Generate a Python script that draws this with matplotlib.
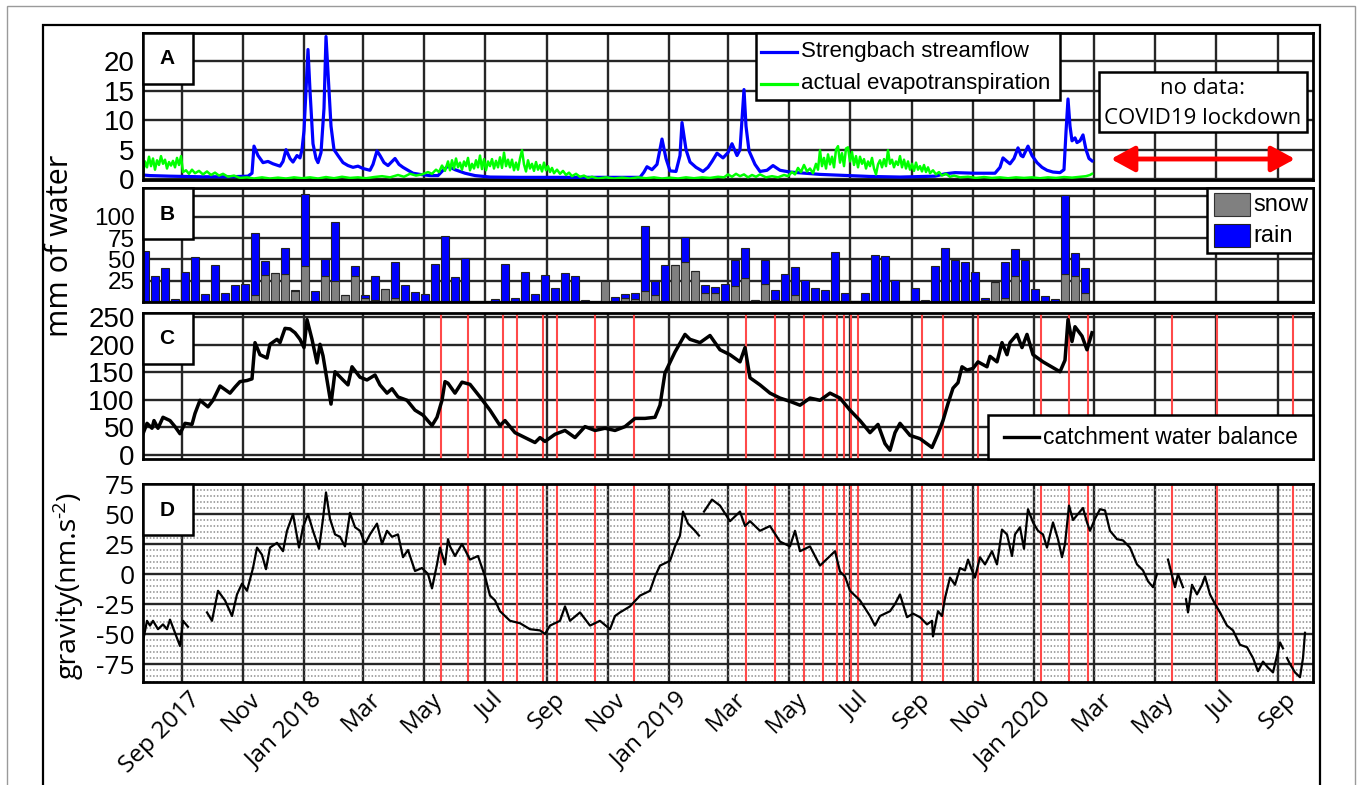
import numpy as np
import matplotlib
matplotlib.use('Agg')
import matplotlib.pyplot as plt
import matplotlib.dates as mdates
from matplotlib.patches import Rectangle, FancyArrowPatch
from matplotlib.lines import Line2D
from matplotlib.transforms import ScaledTranslation

# ---------------- data ----------------
ref_day = '2017-09-01'          # offsets below are days from this date
x_start, x_end = '2017-07-24', '2020-10-06'

month_ticks = ['2017-09-01', '2017-11-01', '2018-01-01', '2018-03-01', '2018-05-01',
               '2018-07-01', '2018-09-01', '2018-11-01', '2019-01-01', '2019-03-01',
               '2019-05-01', '2019-07-01', '2019-09-01', '2019-11-01', '2020-01-01',
               '2020-03-01', '2020-05-01', '2020-07-01', '2020-09-01']
month_labels = ['Sep 2017', 'Nov', 'Jan 2018', 'Mar', 'May', 'Jul', 'Sep', 'Nov',
                'Jan 2019', 'Mar', 'May', 'Jul', 'Sep', 'Nov', 'Jan 2020', 'Mar',
                'May', 'Jul', 'Sep']

# Panel A: Strengbach streamflow (mm/day)
flow_day = [-39, -32, -12, 18, 48, 66, 70, 72, 76, 81, 86, 91, 98, 101, 104, 108, 111,
            115, 118, 120, 122, 124, 126, 128, 131, 134, 136, 139, 142, 144, 146, 149,
            152, 156, 161, 166, 171, 176, 181, 188, 191, 195, 198, 202, 206, 210, 213,
            217, 221, 226, 231, 238, 248, 256, 261, 266, 273, 283, 293, 308, 338, 378,
            418, 458, 462, 465, 470, 475, 480, 484, 488, 494, 498, 500, 504, 508, 514,
            521, 526, 530, 535, 541, 546, 550, 555, 558, 560, 562, 564, 567, 573, 578,
            585, 591, 598, 608, 623, 638, 653, 668, 688, 718, 753, 763, 773, 793, 813,
            818, 821, 825, 828, 832, 836, 839, 841, 846, 850, 855, 860, 865, 871, 878,
            882, 884, 886, 888, 890, 893, 895, 898, 901, 904, 907, 910]
flow_mm = [0.7, 0.6, 0.5, 0.4, 0.4, 0.5, 1.0, 5.6, 4.0, 2.8, 3.0, 2.6, 2.2, 3.0, 5.0,
           3.5, 2.9, 4.0, 3.6, 5.0, 8.2, 15.0, 22.0, 15.0, 6.0, 3.5, 2.8, 4.5, 12.0,
           24.2, 18.0, 9.0, 5.0, 4.0, 2.8, 2.3, 2.0, 2.2, 1.8, 1.5, 2.5, 4.8, 4.0, 2.8,
           2.3, 3.0, 3.5, 2.5, 2.0, 1.5, 1.0, 0.8, 0.6, 0.6, 1.5, 2.2, 1.6, 1.0, 0.6,
           0.35, 0.3, 0.3, 0.3, 0.3, 1.2, 2.1, 1.6, 2.5, 6.8, 3.5, 1.4, 1.3, 4.0, 9.6,
           5.0, 2.9, 2.0, 1.3, 2.0, 3.0, 4.4, 3.6, 4.5, 6.0, 4.0, 5.0, 10.0, 15.2, 9.0,
           4.8, 2.5, 1.3, 1.5, 2.3, 1.5, 1.2, 1.0, 0.8, 0.7, 0.6, 0.45, 0.35, 0.5, 0.9,
           1.1, 1.0, 1.0, 2.0, 3.6, 3.0, 2.6, 3.5, 5.3, 4.0, 3.8, 5.6, 4.0, 2.8, 2.0,
           1.5, 1.2, 1.1, 1.6, 8.0, 13.6, 9.0, 6.5, 7.0, 6.2, 6.5, 7.5, 5.0, 3.5, 3.1]

# Panel A: actual evapotranspiration (mm/day)
et_day = [-39, -37, -35, -33, -31, -29, -27, -25, -23, -21, -19, -17, -15, -13, -11, -9,
          -7, -5, -3, -1, 1, 4, 7, 10, 13, 17, 21, 25, 29, 33, 37, 41, 46, 52, 58, 65,
          72, 80, 88, 96, 104, 112, 120, 128, 136, 144, 152, 160, 168, 176, 184, 192,
          200, 208, 216, 222, 228, 234, 240, 246, 250, 254, 257, 260, 263, 266,
          268, 270, 272, 274, 276, 278, 280, 282, 284, 286, 288, 290, 292, 294, 296,
          298, 300, 302, 304, 306, 308, 310, 312, 314, 316, 318, 320, 322, 324, 326,
          328, 330, 332, 334, 336, 338, 340, 342, 344, 346, 348, 350, 352, 354, 356,
          358, 360, 362, 364, 366, 368, 370, 372, 375, 378, 381, 384, 387, 390, 394,
          398, 402, 406, 410, 416, 424, 432, 440, 448, 456, 464, 472, 480, 488, 496,
          504, 512, 520, 528, 536, 542, 546, 550, 554, 558, 562, 566, 570, 574, 578,
          584, 590, 596, 602, 606, 610, 613, 616, 619, 622, 625, 628, 631, 634, 636,
          638, 640, 642, 644, 646, 648, 650, 652, 654, 656, 658, 660, 662, 664, 666,
          668, 670, 672, 674, 676, 678, 680, 682, 684, 686, 688, 690, 692, 694, 696,
          698, 700, 702, 704, 706, 708, 710, 712, 714, 716, 718, 720, 722, 724, 726,
          728, 730, 732, 734, 736, 738, 740, 742, 744, 746, 748, 751, 754, 757, 760,
          764, 768, 772, 778, 786, 794, 802, 810, 818, 826, 834, 842, 850, 858, 866,
          874, 882, 890, 898, 904, 908, 910]
et_mm = [1.0, 3.0, 2.0, 3.8, 2.2, 3.5, 1.6, 3.2, 2.4, 3.9, 2.6, 3.3, 1.8, 2.9, 2.3, 3.1,
         2.0, 3.6, 2.4, 3.9, 1.2, 1.5, 0.9, 1.6, 1.0, 1.4, 0.8, 1.3, 0.7, 1.1, 0.6, 0.9,
         0.4, 0.6, 0.2, 0.3, 0.1, 0.3, 0.1, 0.25, 0.1, 0.3, 0.15, 0.3, 0.1, 0.35, 0.15,
         0.4, 0.2, 0.3, 0.15, 0.35, 0.5, 0.3, 0.7, 0.4, 0.9, 0.6, 0.8, 1.2, 0.9, 1.6,
         1.2, 2.3, 1.4, 3.0,
         1.5, 3.2, 1.8, 3.5, 2.0, 2.8, 1.6, 3.0, 2.2, 3.6, 1.5, 2.6, 1.8, 3.2, 2.0,
         4.0, 1.7, 3.4, 1.5, 3.0, 2.2, 3.4, 1.8, 3.1, 2.0, 3.7, 1.9, 4.5, 2.2, 3.3,
         2.0, 3.3, 1.5, 2.8, 1.6, 3.5, 4.9, 2.5, 1.3, 3.2, 1.8, 2.6, 1.4, 2.9, 1.6,
         2.4, 1.3, 2.8, 1.5, 2.2, 1.2, 1.9, 1.0, 1.6, 0.9, 1.4, 0.7, 1.1, 0.5, 0.9,
         0.4, 0.6, 0.2, 0.4, 0.1, 0.3, 0.1, 0.25, 0.1, 0.3, 0.15, 0.3, 0.1, 0.25, 0.1,
         0.3, 0.15, 0.3, 0.2, 0.4, 0.3, 0.8, 0.4, 0.9, 0.5, 0.8, 0.3, 0.7, 0.4, 0.8,
         0.3, 0.5, 0.3, 0.7, 0.5, 1.2, 0.8, 1.9, 1.2, 2.4, 1.3, 1.8, 1.0, 2.6, 1.6,
         4.9, 2.2, 3.6, 1.8, 4.2, 2.5, 3.8, 2.0, 5.0, 5.6, 2.8, 4.4, 2.2, 5.2, 5.4,
         3.0, 4.6, 2.4, 3.9, 2.0, 3.8, 2.6, 3.4, 1.8, 3.0, 2.2, 3.6, 1.8, 0.8, 2.5,
         3.2, 2.0, 3.4, 2.2, 4.9, 2.6, 3.3, 2.0, 3.0, 2.4, 3.9, 2.0, 3.3, 1.8, 3.0,
         1.6, 2.6, 1.4, 2.8, 1.6, 2.2, 1.3, 2.4, 1.2, 2.0, 1.0, 1.5, 0.8, 1.2, 0.6,
         0.9, 0.4, 0.6, 0.3, 0.4, 0.2, 0.35, 0.2, 0.3, 0.15, 0.3, 0.2, 0.3, 0.15, 0.3,
         0.2, 0.35, 0.25, 0.4, 0.5, 0.7, 0.9]

# Panel B: 10-day precipitation totals (mm), first bin centred on bar_first
bar_first = '2017-07-26'
bar_step_days = 10
snow_mm = [0, 0, 0, 0, 0, 0, 0, 0, 0, 0, 0, 8, 32, 34, 33, 12.5, 42, 0, 31, 24.6,
           8, 31, 4.7, 2, 15.6, 5, 0, 0, 0, 0, 0, 0, 0, 0, 0, 0, 0, 0, 0, 0,
           0, 0, 0, 0, 0, 0, 24.6, 0, 5, 4, 12.5, 8, 0, 44, 47, 37, 10.5, 10.5, 0, 19,
           28, 2, 21.5, 2, 0, 8.6, 0, 0, 0, 0, 0, 0, 0, 0, 0, 0, 0, 0, 0, 0,
           0, 0, 0, 0, 2, 23.4, 4.3, 30.5, 0, 0, 0, 0, 33, 31, 10]
rain_mm = [60, 30, 40, 4, 35, 53, 9, 44, 10, 20, 21, 73, 16, 0, 30, 2, 85, 13, 20, 70,
           0, 11.5, 3.3, 29, 0, 41.5, 20, 11.7, 9, 45, 78, 29, 51.5, 0.5, 0.5, 3.5, 44.5,
           4.3, 35, 9, 32, 16, 34, 31, 2.3, 0.3, 0, 6, 4, 7, 76.5, 16.6, 44, 0, 29, 0,
           9.5, 7.5, 20.7, 30, 36, 0, 28, 11.7, 33, 32.4, 26, 17, 13.7, 58.6, 10, 1.5,
           10, 55, 53.5, 26, 1, 16.4, 2.3, 42, 63, 49.6, 46.5, 35.5, 2.3, 0, 42.7, 32,
           49.6, 15, 6.6, 3, 93, 27, 30]

# Panel C: catchment water balance (mm)
wb_day = [-39, -35, -30, -28, -24, -19, -12, -7, -2, 3, 10, 13, 18, 26, 31, 38, 48, 53,
          58, 65, 70, 73, 78, 85, 88, 95, 98, 103, 108, 113, 118, 122, 125, 130, 135,
          138, 141, 145, 149, 153, 161, 166, 170, 178, 185, 193, 198, 205, 210, 216,
          225, 233, 241, 250, 255, 260, 263, 266, 273, 280, 288, 298, 308, 318, 323,
          333, 343, 353, 358, 363, 373, 383, 393, 403, 413, 423, 433, 443, 453, 463,
          473, 478, 483, 493, 503, 508, 518, 528, 538, 548, 558, 563, 568, 578, 588,
          598, 608, 618, 628, 638, 648, 658, 668, 678, 688, 696, 703, 708, 713, 718,
          728, 738, 750, 756, 761, 766, 771, 776, 780, 785, 791, 796, 805, 808, 815,
          820, 825, 828, 835, 840, 845, 851, 861, 878, 883, 886, 890, 893, 900, 905, 910]
wb_mm = [38, 57, 48, 62, 48, 68, 62, 51, 38, 57, 55, 75, 99, 87, 99, 125, 112, 123, 133,
         135, 138, 204, 182, 176, 201, 210, 204, 230, 229, 222, 210, 195, 246, 210, 167,
         201, 180, 136, 92, 151, 136, 127, 160, 141, 136, 145, 127, 112, 120, 105, 99,
         81, 72, 53, 68, 99, 133, 130, 112, 132, 128, 105, 81, 53, 62, 40, 31, 22, 31,
         24, 37, 44, 31, 51, 44, 48, 44, 51, 66, 66, 68, 90, 149, 187, 219, 210, 204,
         217, 191, 182, 169, 195, 140, 127, 112, 103, 97, 90, 103, 99, 112, 103, 81, 62,
         40, 55, 20, 8, 40, 57, 35, 29, 13, 38, 62, 93, 121, 131, 160, 154, 157, 169,
         160, 179, 169, 204, 182, 204, 219, 195, 219, 182, 169, 151, 172, 246, 206, 233,
         216, 191, 222]

# Panel D: gravity residual (nm.s-2); NaN = data gap
grav_day = [-39, -35, -32, -29, -24, -19, -15, -12, -7, -2, 1, 6, 15,
            25, 30, 36, 43, 50, 55, 60, 65, 71, 75, 80, 84, 88, 95, 101, 105, 111, 117,
            121, 126, 131, 137, 141, 144, 148, 153, 158, 163, 168, 173, 178, 183, 188,
            195, 200, 205, 210, 216, 221, 226, 233, 240, 246, 250, 255, 258, 263, 266,
            268, 273, 280, 288, 296, 303, 308, 313, 318, 328, 338, 348, 358, 363, 368,
            378, 383, 388, 398, 408, 418, 428, 433, 438, 448, 458, 468, 473, 478, 488,
            493, 498, 501, 506, 513, 517, 520,
            522, 530, 538, 548, 558, 563, 568, 578, 588, 598, 608, 613, 618, 628, 638,
            648, 653, 658, 663, 668, 678, 688, 693, 698, 708, 713, 718, 725, 731, 738,
            745, 750, 751, 756, 760, 763, 768, 773, 778, 783, 786, 790, 793, 798, 803,
            810, 815, 820, 825, 830, 833, 838, 842, 846, 851, 856, 861, 865, 871, 876,
            880, 883, 887, 891, 896, 901, 905, 908, 913, 918, 923, 928, 935, 941, 948,
            955, 961, 966, 971, 975, 978,
            986, 993, 996, 1001, 1003,
            1004, 1006, 1010, 1015, 1020, 1023, 1028, 1033, 1038, 1045, 1051, 1058, 1065,
            1071, 1076, 1081, 1086, 1091, 1095, 1098, 1101, 1103,
            1105, 1108, 1113, 1118, 1121, 1123]
grav_nms2 = [-56, -39, -43, -39, -46, -42, -46, -38, -49, -60, -39, -44, np.nan,
             -32, -39, -14, -22, -35, -17, -8, -14, 5, 22, 16, 4, 22, 26, 19, 36, 50, 22,
             39, 50, 36, 21, 46, 68, 46, 33, 31, 23, 51, 39, 36, 25, 33,
             42, 25, 36, 31, 33, 14, 20, 2.5, 5, 0, -12, 8, 22, 8, 29,
             23, 15, 25, 12, 15, -2, -18, -22, -31, -39, -41, -46, -47, -50, -43,
             -39, -27, -39, -32, -43, -39, -46, -35, -32, -27, -18, -14, -2, 7, 11,
             23, 32, 52, 42, 36, 32, np.nan,
             52, 62, 57, 44, 52, 40, 44, 36, 40, 27, 23, 36, 19, 23, 7,
             15, 19, 2, -2, -14, -22, -35, -43, -35, -31, -25, -17, -36, -33, -36,
             -42, -39, -52, -31, -35, -20, -3, -9, 5, 3, 12, 3, -3, 14, 8,
             19, 8, 37, 33, 15, 33, 39, 21, 54, 43, 36, 33, 22, 43, 29,
             14, 25, 57, 45, 50, 55, 43, 36, 46, 54, 53, 36, 29, 28, 22,
             8, 3, -6, -11, 0, np.nan,
             12, -11, 0, -11, np.nan,
             -21, -32, -9, -17, -9, -2, -17, -25, -32, -43, -47, -59, -61,
             -70, -81, -73, -78, -82, -68, -57, -62, np.nan,
             -70, -75, -82, -86, -70, -49]

# red vertical event lines (panels C and D)
event_dates = ['2018-05-18', '2018-06-14', '2018-07-19', '2018-08-02', '2018-08-28',
               '2018-09-11', '2018-10-19', '2018-11-27', '2019-03-19', '2019-04-17',
               '2019-05-16', '2019-06-04', '2019-06-18', '2019-06-25', '2019-07-02',
               '2019-07-09', '2019-09-11', '2019-10-02', '2019-11-06', '2020-01-08',
               '2020-02-05', '2020-02-24', '2020-05-18', '2020-07-02', '2020-09-16']

# ---------------- helpers ----------------
W, H = 1357, 785
REF = np.datetime64(ref_day)


def off2num(offsets):
    return mdates.date2num(REF + np.array(offsets, dtype=int).astype('timedelta64[D]'))


def d2num(strs):
    return mdates.date2num(np.array(strs, dtype='datetime64[D]'))


def fx(x):
    return x / W


def fy(y):
    return 1 - y / H


fig = plt.figure(figsize=(W / 100, H / 100), dpi=100)
fig.patch.set_facecolor('white')

ARIAL = 'Liberation Sans'
OPEN = 'Open Sans'
GRID = '#262626'
YT = 20

# outer frames
fig.add_artist(Rectangle((fx(7), fy(800)), (1355 - 7) / W, (800 - 6) / H,
                         transform=fig.transFigure, fill=False, ec='#9a9a9a', lw=1.0, zorder=0))
fig.add_artist(Rectangle((fx(43), fy(820)), (1320 - 43) / W, (820 - 25) / H,
                         transform=fig.transFigure, fill=False, ec='black', lw=1.6, zorder=0))

X0, X1 = d2num([x_start, x_end])
ticks = d2num(month_ticks)


def make_ax(top, bottom):
    ax = fig.add_axes([fx(143), fy(bottom), 1170 / W, (bottom - top) / H])
    ax.set_xlim(X0, X1)
    ax.set_xticks(ticks)
    ax.set_axisbelow(True)
    ax.grid(True, which='major', color=GRID, lw=1.7)
    ax.tick_params(length=0, pad=6)
    for s in ax.spines.values():
        s.set_linewidth(2.0)
        s.set_color('black')
        s.set_zorder(6)
    return ax


axA = make_ax(33, 180)
axB = make_ax(188, 302)
axC = make_ax(313, 459)
axD = make_ax(484, 682)

# ---- Panel A ----
axA.plot(off2num(flow_day), flow_mm, color='#0000ff', lw=2.3, zorder=3)
axA.plot(off2num(et_day), et_mm, color='#00ff00', lw=1.8, zorder=3)
axA.set_ylim(-0.15, 24.8)
axA.set_yticks([0, 5, 10, 15, 20])
axA.set_yticklabels(['0', '5', '10', '15', '20'], family=ARIAL, fontsize=YT)
axA.set_xticklabels([])

# ---- Panel B ----
bx = mdates.date2num(np.datetime64(bar_first) +
                     (np.arange(len(snow_mm)) * bar_step_days).astype('timedelta64[D]'))
snow = np.array(snow_mm, float)
rain = np.array(rain_mm, float)
axB.bar(bx, snow, width=7.3, color='#808080', edgecolor='#333333', lw=0.8, zorder=2)
axB.bar(bx, rain, bottom=snow, width=7.3, color='#0000ff', edgecolor='#222222', lw=0.8, zorder=2)
axB.set_ylim(0, 134)
axB.set_yticks([0, 25, 50, 75, 100, 125])
axB.set_yticklabels(['', '25', '50', '75', '100', ''], family=ARIAL, fontsize=17.5)
axB.set_xticklabels([])

# ---- Panel C ----
ev = d2num(event_dates)
for e in ev:
    axC.axvline(e, color='#ff4a4a', lw=1.5, zorder=1)
axC.plot(off2num(wb_day), wb_mm, color='black', lw=2.5, zorder=3)
axC.set_ylim(-8, 258)
axC.set_yticks([0, 50, 100, 150, 200, 250])
axC.set_yticklabels(['0', '50', '100', '150', '200', '250'], family=ARIAL, fontsize=YT)
axC.set_xticklabels([])

# ---- Panel D ----
for e in ev:
    axD.axvline(e, color='#ff4a4a', lw=1.5, zorder=1)
axD.plot(off2num(grav_day), grav_nms2, color='black', lw=1.6, zorder=3)
axD.set_ylim(-90, 75)
axD.set_yticks([-75, -50, -25, 0, 25, 50, 75])
axD.set_yticklabels(['-75', '-50', '-25', '0', '25', '50', '75'], family=OPEN, fontsize=19)
axD.yaxis.set_minor_locator(matplotlib.ticker.MultipleLocator(5))
axD.tick_params(which='minor', length=0)
axD.grid(True, which='minor', axis='y', color='#8c8c8c', lw=1.1, linestyle=(0, (1, 1.2)))
axD.set_xticklabels(month_labels, rotation=45, ha='right', va='top',
                    rotation_mode='anchor', family=OPEN, fontsize=17.5)
axD.tick_params(axis='x', pad=4)
shift = ScaledTranslation(6 / 100, 0, fig.dpi_scale_trans)
for lab in axD.get_xticklabels():
    lab.set_transform(lab.get_transform() + shift)


# ---------------- annotation boxes (figure pixel coords) ----------------
def box(x0, y0, x1, y1, lw=1.8, z=10):
    fig.add_artist(Rectangle((fx(x0), fy(y1)), (x1 - x0) / W, (y1 - y0) / H,
                             transform=fig.transFigure, fc='white', ec='black',
                             lw=lw, zorder=z))


# panel letters
for letter, top in zip('ABCD', (33, 188, 313, 484)):
    box(143, top, 193, top + 51)
    fig.text(fx(167), fy(top + 26), letter, ha='center', va='center',
             fontsize=15, fontweight='bold', family=ARIAL, zorder=11)

# legend A
box(756, 33, 1060, 100)
fig.add_artist(Line2D([fx(761), fx(797)], [fy(52), fy(52)], color='#0000ff', lw=2.3,
                      transform=fig.transFigure, zorder=11))
fig.add_artist(Line2D([fx(761), fx(797)], [fy(84), fy(84)], color='#00ff00', lw=2.3,
                      transform=fig.transFigure, zorder=11))
fig.text(fx(801), fy(52), 'Strengbach streamflow', ha='left', va='center',
         fontsize=16, family=ARIAL, zorder=11)
fig.text(fx(801), fy(84), 'actual evapotranspiration', ha='left', va='center',
         fontsize=16, family=ARIAL, zorder=11)

# no data box + arrow
box(1099, 72, 1307, 132)
fig.text(fx(1203), fy(88), 'no data:', ha='center', va='center', fontsize=16,
         family=OPEN, zorder=11)
fig.text(fx(1203), fy(118), 'COVID19 lockdown', ha='center', va='center', fontsize=16,
         family=OPEN, zorder=11)
fig.add_artist(FancyArrowPatch((fx(1111), fy(159)), (fx(1295), fy(159)),
                               transform=fig.transFigure,
                               arrowstyle='<|-|>,head_length=0.55,head_width=0.3',
                               mutation_scale=26, color='#ff0000', lw=3.5,
                               shrinkA=0, shrinkB=0, zorder=11))

# legend B
box(1207, 188, 1313, 253)
fig.add_artist(Rectangle((fx(1214), fy(216)), 36 / W, 23 / H, transform=fig.transFigure,
                         fc='#808080', ec='#333333', lw=0.8, zorder=11))
fig.add_artist(Rectangle((fx(1214), fy(247)), 36 / W, 23 / H, transform=fig.transFigure,
                         fc='#0000ff', ec='#222222', lw=0.8, zorder=11))
fig.text(fx(1253), fy(205), 'snow', ha='left', va='center', fontsize=17, family=ARIAL, zorder=11)
fig.text(fx(1253), fy(236), 'rain', ha='left', va='center', fontsize=17, family=ARIAL, zorder=11)

# legend C
box(988, 415, 1313, 459)
fig.add_artist(Line2D([fx(1004), fx(1039)], [fy(437), fy(437)], color='black', lw=2.4,
                      transform=fig.transFigure, zorder=11))
fig.text(fx(1043), fy(437), 'catchment water balance', ha='left', va='center',
         fontsize=16.5, family=ARIAL, zorder=11)

# axis titles
fig.text(fx(60), fy(246), 'mm of water', rotation=90, ha='center', va='center',
         fontsize=22, family=OPEN)

# gravity(nm.s^-2) built from three rotated pieces
renderer = fig.canvas.get_renderer()
g1 = fig.text(fx(69), fy(679), 'gravity(nm.s', rotation=90, ha='center', va='bottom',
              fontsize=20.5, family=OPEN)
bb1 = g1.get_window_extent(renderer)
g2 = fig.text(fx(60), (bb1.y1 - 1) / H, '-2', rotation=90, ha='center', va='bottom',
              fontsize=14, family=OPEN)
bb2 = g2.get_window_extent(renderer)
fig.text(fx(69), (bb2.y1 - 1) / H, ')', rotation=90, ha='center', va='bottom',
         fontsize=20.5, family=OPEN)

fig.savefig('out.png', dpi=100, facecolor='white')
